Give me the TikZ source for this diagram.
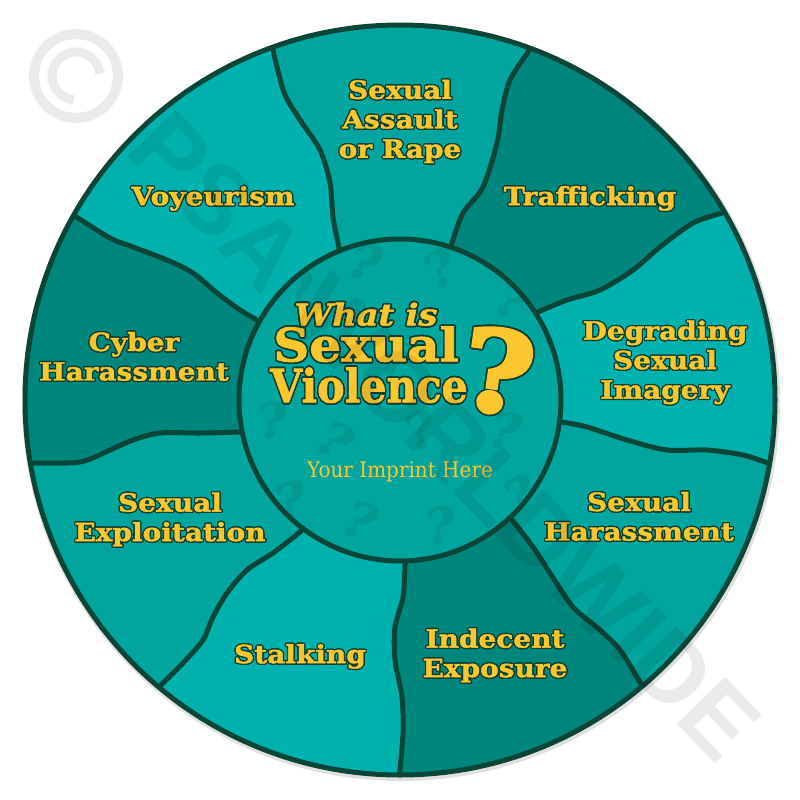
\documentclass[tikz,border=0pt]{standalone}
\usepackage{graphicx}
\usepackage{fontspec}
\IfFileExists{contour.sty}{\usepackage[copies]{contour}}{\newcommand\contour[2]{#2}\newcommand\contourlength[1]{}\newcommand\contournumber[1]{}}
\setmainfont{DejaVu Serif}
\newfontfamily\labfont[FakeStretch=1.12, BoldFeatures={FakeBold=1.6}, BoldItalicFeatures={FakeBold=1.6}]{DejaVu Serif}
\newfontfamily\qfont[FakeBold=3.5, FakeStretch=1.1]{DejaVu Serif Bold}
\newfontfamily\impfont[FakeStretch=0.93]{DejaVu Serif}
\newfontfamily\wmfont{Liberation Sans}
\definecolor{segmid}{HTML}{00A59D}
\definecolor{segdark}{HTML}{00877D}
\definecolor{seglight}{HTML}{00B2AD}
\definecolor{rimcol}{HTML}{0A4637}
\definecolor{ylw}{HTML}{FCC62F}
\definecolor{olc}{HTML}{0B3F33}
\definecolor{patcol}{HTML}{049990}
\newcommand\ol[1]{{\contourlength{1.2pt}\contournumber{24}\contour{olc}{#1}}}
\newcommand\olB[1]{{\contourlength{1.6pt}\contournumber{32}\contour{olc}{#1}}}
\tikzset{
  lab/.style={font=\labfont\bfseries\fontsize{25}{29.5}\selectfont, text=ylw, align=center, inner sep=0pt},
  ttl/.style={text=ylw, inner sep=0pt},
  divider/.style={draw=rimcol, line width=5pt, line cap=round},
  rim/.style={draw=rimcol, line width=5pt},
  qpat/.style={text=patcol, inner sep=0pt, font=\labfont\bfseries\itshape\fontsize{48}{48}\selectfont},
}
\begin{document}
\begin{tikzpicture}[x=1pt,y=-1pt]
\fill[white] (0,0) rectangle (800,800);
\useasboundingbox (0,0) rectangle (800,800);
\coordinate (c) at (400,400);
% ring base
\fill[black, opacity=0.12] (401,402) circle[radius=379];
\fill[segmid] (c) circle[radius=375];
\begin{scope}
\clip (c) circle[radius=375];
% Trafficking (dark)
\fill[segdark] plot[smooth] coordinates {(448,258) (452,243) (463,213) (483,187) (497,143) (502,110) (510,80) (528,52) (537,38)}
  -- (619,-179) -- (939,93) --
  plot[smooth] coordinates {(737,208) (722,213) (693,223) (660,247) (633,270) (600,290) (567,300) (538,312) (525,318)} -- (c) -- cycle;
% Degrading (light)
\fill[seglight] plot[smooth] coordinates {(525,318) (538,312) (567,300) (600,290) (633,270) (660,247) (693,223) (722,213) (737,208)}
  -- (939,93) -- (1011,507) --
  plot[smooth] coordinates {(782,467) (768,463) (743,455) (707,450) (667,450) (627,440) (587,427) (562,422) (548,420)} -- (c) -- cycle;
% Indecent (dark)
\fill[segdark] plot[smooth] coordinates {(502,510) (512,520) (533,547) (550,573) (573,607) (600,630) (620,650) (640,682) (647,695)}
  -- (795,872) -- (400,1016) --
  plot[smooth] coordinates {(400,785) (400,770) (403,733) (402,697) (395,660) (395,627) (403,597) (405,565) (405,548)} -- (c) -- cycle;
% Stalking (light)
\fill[seglight] plot[smooth] coordinates {(405,548) (405,565) (403,597) (395,627) (395,660) (402,697) (403,733) (400,770) (400,785)}
  -- (400,1016) -- (3,872) --
  plot[smooth] coordinates {(152,695) (163,683) (183,663) (203,640) (213,617) (227,593) (247,570) (273,553) (300,532) (310,522)} -- (c) -- cycle;
% Cyber (dark)
\fill[segdark] plot[smooth] coordinates {(255,431) (240,432) (200,433) (160,433) (133,440) (110,450) (80,462) (33,463) (15,463)}
  -- (-216,501) -- (-134,96) --
  plot[smooth] coordinates {(66,210) (78,218) (110,238) (133,247) (167,260) (193,273) (217,293) (240,310) (257,320) (272,328)} -- (c) -- cycle;
% Voyeurism (light)
\fill[seglight] plot[smooth] coordinates {(272,328) (257,320) (240,310) (217,293) (193,273) (167,260) (133,247) (110,238) (78,218) (66,210)}
  -- (-134,96) -- (194,-182) --
  plot[smooth] coordinates {(271,36) (273,50) (277,67) (285,95) (300,120) (320,150) (330,183) (333,217) (338,243) (342,262)} -- (c) -- cycle;
% dividers
\draw[divider] plot[smooth] coordinates {(342,262) (338,243) (333,217) (330,183) (320,150) (300,120) (285,95) (277,67) (273,50) (271,36)};
\draw[divider] plot[smooth] coordinates {(448,258) (452,243) (463,213) (483,187) (497,143) (502,110) (510,80) (528,52) (537,38)};
\draw[divider] plot[smooth] coordinates {(525,318) (538,312) (567,300) (600,290) (633,270) (660,247) (693,223) (722,213) (737,208)};
\draw[divider] plot[smooth] coordinates {(548,420) (562,422) (587,427) (627,440) (667,450) (707,450) (743,455) (768,463) (782,467)};
\draw[divider] plot[smooth] coordinates {(502,510) (512,520) (533,547) (550,573) (573,607) (600,630) (620,650) (640,682) (647,695)};
\draw[divider] plot[smooth] coordinates {(405,548) (405,565) (403,597) (395,627) (395,660) (402,697) (403,733) (400,770) (400,785)};
\draw[divider] plot[smooth] coordinates {(310,522) (300,532) (273,553) (247,570) (227,593) (213,617) (203,640) (183,663) (163,683) (152,695)};
\draw[divider] plot[smooth] coordinates {(255,431) (240,432) (200,433) (160,433) (133,440) (110,450) (80,462) (33,463) (15,463)};
\draw[divider] plot[smooth] coordinates {(272,328) (257,320) (240,310) (217,293) (193,273) (167,260) (133,247) (110,238) (78,218) (66,210)};
\end{scope}
% inner circle
\fill[segmid] (c) circle[radius=161];
\begin{scope}
\clip (c) circle[radius=161];
\node[qpat, rotate=20] (q1) at (300,290) {?};
\node[qpat, rotate=-15] (q2) at (365,262) {?};
\node[qpat, rotate=30] (q3) at (440,268) {?};
\node[qpat, rotate=-20] (q4) at (512,300) {?};
\node[qpat, rotate=10] (q5) at (272,420) {?};
\node[qpat, rotate=-30] (q6) at (335,440) {?};
\node[qpat, rotate=25] (q7) at (420,430) {?};
\node[qpat, rotate=-10] (q8) at (505,430) {?};
\node[qpat, rotate=15] (q9) at (290,500) {?};
\node[qpat, rotate=-20] (q10) at (360,520) {?};
\node[qpat, rotate=10] (q11) at (440,525) {?};
\node[qpat, rotate=30] (q12) at (520,495) {?};
\node[qpat, rotate=-25] (q13) at (400,360) {?};
\end{scope}
\draw[rim] (c) circle[radius=161];
\draw[rim] (c) circle[radius=375];
% labels
\node[lab] (assault) at (400,122) {\ol{Sexual}\\\ol{Assault}\\\ol{or Rape}};
\node[lab] (traff) at (590,199) {\ol{Trafficking}};
\node[lab] (degr) at (665,363) {\ol{Degrading}\\\ol{Sexual}\\\ol{Imagery}};
\node[lab] (sexhar) at (639,517) {\ol{Sexual}\\\ol{Harassment}};
\node[lab] (indec) at (495,656) {\ol{Indecent}\\\ol{Exposure}};
\node[lab] (stalk) at (300,657) {\ol{Stalking}};
\node[lab] (explo) at (170,520) {\ol{Sexual}\\\ol{Exploitation}};
\node[lab] (cyber) at (134,357) {\ol{Cyber}\\\ol{Harassment}};
\node[lab] (voyeur) at (213,199) {\ol{Voyeurism}};
% title
\node[ttl, font=\labfont\bfseries\itshape\fontsize{30}{30}\selectfont] (whatis) at (366,315) {\olB{What is}};
\node[ttl, font=\labfont\bfseries\fontsize{46}{46}\selectfont] (sexual) at (366,345) {\scalebox{0.97}[1]{\olB{Sexual}}};
\node[ttl, font=\labfont\bfseries\fontsize{46}{46}\selectfont] (violence) at (369,386) {\scalebox{0.8}[1]{\olB{Violence}}};
\node[ttl, font=\qfont\fontsize{112}{112}\selectfont, rotate=-8] (qmark) at (498,372) {\olB{?}};
\node[ttl, font=\impfont\fontsize{21.5}{21.5}\selectfont] (imprint) at (400,472) {Your Imprint Here};
% watermark
\begin{scope}[opacity=0.08]
\draw[line width=10pt] (76,76) circle[radius=42];
\draw[line width=9pt] (76,76) ++(95:24) arc[start angle=95, end angle=355, radius=24];
\node[font=\wmfont\bfseries\fontsize{98}{98}\selectfont, rotate=-46, inner sep=0pt] (wm) at (445,436) {PSA WORLDWIDE};
\end{scope}
\end{tikzpicture}
\end{document}
